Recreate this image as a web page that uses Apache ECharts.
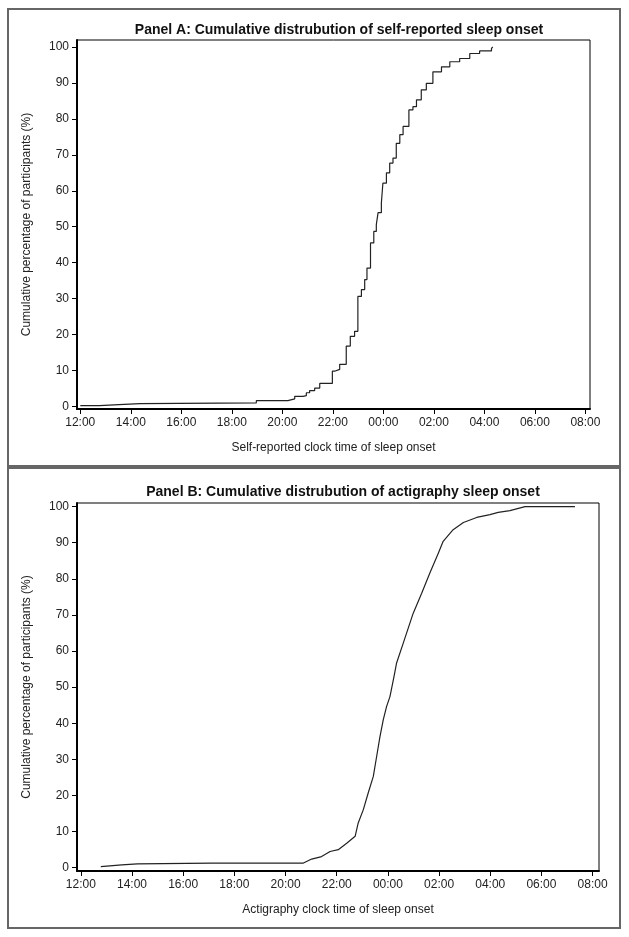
<!DOCTYPE html>
<html>
<head>
<meta charset="utf-8">
<script src="https://cdn.jsdelivr.net/npm/echarts@6/dist/echarts.min.js"></script>
<style>
  html, body { margin: 0; padding: 0; background: #fff; }
  #chart { width: 629px; height: 937px; }
</style>
</head>
<body>
<div id="chart"></div>
<script>
  // hours after 12:00 noon, cumulative %
  var selfHours = [0.0, 0.76, 1.53, 2.37, 6.97, 8.22, 8.49, 8.82, 8.95, 9.08, 9.28, 9.48, 9.98, 10.07, 10.27, 10.53, 10.69, 10.86,
    10.99, 11.13, 11.26, 11.35, 11.49, 11.62, 11.72, 11.79, 11.92, 11.98, 12.12, 12.25, 12.38, 12.51, 12.65, 12.78, 13.01,
    13.17, 13.31, 13.50, 13.70, 13.96, 14.30, 14.63, 15.02, 15.42, 15.81, 16.28, 16.33];
  var selfPct = [0.2, 0.5, 0.8, 1.0, 1.6, 2.1, 2.8, 3.0, 3.8, 4.4, 5.1, 6.4, 9.8, 10.3, 11.7, 16.8, 19.5, 20.9,
    30.6, 32.5, 35.3, 38.5, 45.5, 48.7, 50.6, 53.9, 56.6, 62.1, 65.0, 67.7, 69.1, 73.2, 75.6, 77.9, 82.5,
    83.4, 85.3, 88.1, 89.9, 93.1, 94.5, 95.9, 96.8, 98.2, 98.9, 99.6, 100];

  var actiHours = [0.78, 1.6, 2.21, 5.12, 8.70, 9.02, 9.41, 9.74, 10.06, 10.39, 10.72, 10.84, 11.04, 11.23, 11.43, 11.56,
    11.69, 11.82, 11.95, 12.08, 12.24, 12.34, 12.60, 12.99, 13.32, 13.64, 13.97, 14.16, 14.55, 14.95, 15.47, 15.99,
    16.31, 16.77, 17.36, 19.31];
  var actiPct = [0.3, 0.8, 1.1, 1.3, 1.3, 2.4, 3.1, 4.5, 5.0, 6.8, 8.7, 12.4, 16.1, 20.7, 25.3, 30.8,
    36.3, 41.0, 44.7, 47.4, 53.0, 56.7, 62.2, 70.5, 76.0, 81.6, 87.1, 90.4, 93.6, 95.6, 97.0, 97.8,
    98.4, 98.9, 100, 100];

  var xTicks = [0, 2, 4, 6, 8, 10, 12, 14, 16, 18, 20];
  var yTicks = [0, 10, 20, 30, 40, 50, 60, 70, 80, 90, 100];

  var FONT = 'Liberation Sans';

  let toClock = function (h) {
    var hh = (12 + Math.round(h)) % 24;
    return (hh < 10 ? '0' : '') + hh + ':00';
  }

  let pairs = function (xs, ys) {
    var ret = [];
    for (var i = 0; i < xs.length; i++) ret.push([xs[i], ys[i]]);
    return ret;
  }

  let makeX = function (idx, min, max, name) {
    return {
      type: 'value', gridIndex: idx, min: min, max: max,
      name: name, nameLocation: 'middle', nameGap: 33,
      nameTextStyle: { fontFamily: FONT, fontSize: 12, color: '#222' },
      splitLine: { show: false },
      axisLine: { onZero: false, lineStyle: { color: '#000', width: 2 } },
      axisTick: { customValues: xTicks, length: 5, lineStyle: { color: '#000' } },
      axisLabel: { customValues: xTicks, margin: 8, formatter: toClock, fontFamily: FONT, fontSize: 12, color: '#222' }
    };
  }

  let makeY = function (idx, min, max) {
    return {
      type: 'value', gridIndex: idx, min: min, max: max,
      name: 'Cumulative percentage of participants (%)', nameLocation: 'middle', nameGap: 44,
      nameTextStyle: { fontFamily: FONT, fontSize: 12, color: '#222' },
      splitLine: { show: false },
      axisLine: { onZero: false, lineStyle: { color: '#000', width: 2 } },
      axisTick: { customValues: yTicks, length: 5, lineStyle: { color: '#000' } },
      axisLabel: { customValues: yTicks, margin: 8, fontFamily: FONT, fontSize: 12, color: '#222' }
    };
  }

  let myChart = echarts.init(document.getElementById('chart'));
  var option = {
    animation: false,
    backgroundColor: '#fff',
    title: [
      { text: 'Panel A: Cumulative distrubution of self-reported sleep onset', left: 334, top: 18, textAlign: 'center',
        textStyle: { fontFamily: FONT, fontSize: 14, fontWeight: 'bold', color: '#111' } },
      { text: 'Panel B: Cumulative distrubution of actigraphy sleep onset', left: 338, top: 480, textAlign: 'center',
        textStyle: { fontFamily: FONT, fontSize: 14, fontWeight: 'bold', color: '#111' } }
    ],
    graphic: [
      { type: 'rect', shape: { x: 8, y: 9, width: 612, height: 457 }, style: { fill: 'none', stroke: '#666', lineWidth: 2 } },
      { type: 'rect', shape: { x: 8, y: 468, width: 612, height: 460 }, style: { fill: 'none', stroke: '#666', lineWidth: 2 } }
    ],
    grid: [
      { left: 77, top: 40, width: 513, height: 369, show: true, borderColor: '#000', borderWidth: 1 },
      { left: 77, top: 503, width: 522, height: 368, show: true, borderColor: '#000', borderWidth: 1 }
    ],
    xAxis: [
      makeX(0, -0.13, 20.18, 'Self-reported clock time of sleep onset'),
      makeX(1, -0.15, 20.25, 'Actigraphy clock time of sleep onset')
    ],
    yAxis: [
      makeY(0, -0.72, 101.95),
      makeY(1, -0.9, 101.0)
    ],
    series: [
      {
        type: 'line', xAxisIndex: 0, yAxisIndex: 0, step: 'end', symbol: 'none',
        lineStyle: { color: '#222', width: 1.2 },
        data: pairs(selfHours, selfPct)
      },
      {
        type: 'line', xAxisIndex: 1, yAxisIndex: 1, symbol: 'none',
        lineStyle: { color: '#222', width: 1.2 },
        data: pairs(actiHours, actiPct)
      }
    ]
  };
  myChart.setOption(option);
</script>
</body>
</html>
